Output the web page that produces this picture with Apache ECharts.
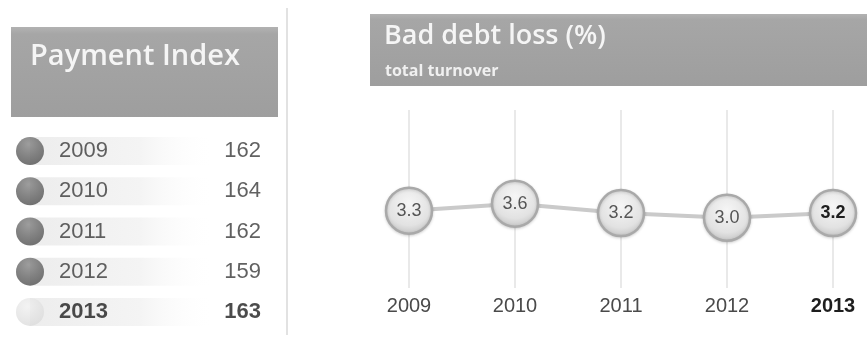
<!DOCTYPE html>
<html>
<head>
<meta charset="utf-8">
<script src="https://cdn.jsdelivr.net/npm/echarts@6/dist/echarts.min.js"></script>
<style>
  html, body { margin: 0; padding: 0; background: #fff; }
  #chart { width: 867px; height: 338px; }
</style>
</head>
<body>
<div id="chart"></div>
<script>
const years = ['2009', '2010', '2011', '2012', '2013'];
const paymentIndex = [162, 164, 162, 159, 163];
const badDebtLoss = [3.3, 3.6, 3.2, 3.0, 3.2];
const latestYear = '2013';

const chart = echarts.init(document.getElementById('chart'), null, { renderer: 'canvas' });

const headerFill = new echarts.graphic.LinearGradient(0, 0, 0, 1, [
    { offset: 0, color: '#b2b2b2' },
    { offset: 0.08, color: '#a6a6a6' },
    { offset: 1, color: '#9e9e9e' }
]);

// balls in the table: dark for past years, pale for latest
const ballColor = (year) => year === latestYear
    ? new echarts.graphic.RadialGradient(0.4, 0.3, 0.7, [
        { offset: 0, color: '#f0f0f0' },
        { offset: 1, color: '#dcdcdc' }
    ])
    : new echarts.graphic.RadialGradient(0.45, 0.25, 0.75, [
        { offset: 0, color: '#858585' },
        { offset: 0.6, color: '#646464' },
        { offset: 1, color: '#505050' }
    ]);

const bubbleFill = new echarts.graphic.RadialGradient(0.5, 0.35, 0.65, [
    { offset: 0, color: '#f6f6f6' },
    { offset: 0.7, color: '#e2e2e2' },
    { offset: 1, color: '#c4c4c4' }
]);

const option = {
    animation: false,
    backgroundColor: '#fff',
    graphic: [
        { type: 'rect', shape: { x: 11, y: 27, width: 267, height: 90 }, style: { fill: headerFill } },
        { type: 'rect', shape: { x: 370, y: 14, width: 497, height: 72 }, style: { fill: headerFill } },
        { type: 'line', shape: { x1: 287, y1: 8, x2: 287, y2: 335 }, style: { stroke: '#d8d8d8', lineWidth: 1.5 } },
        {
            type: 'text', x: 30, y: 57,
            style: { text: 'Payment Index', font: '600 29px "Open Sans"', fill: '#f5f5f5', verticalAlign: 'middle' }
        },
        {
            type: 'text', x: 384, y: 36,
            style: { text: 'Bad debt loss (%)', font: '600 27px "Open Sans"', fill: '#f5f5f5', verticalAlign: 'middle' }
        },
        {
            type: 'text', x: 385, y: 71,
            style: { text: 'total turnover', font: 'bold 16px "Open Sans"', fill: '#f0f0f0', verticalAlign: 'middle' }
        }
    ],
    grid: [
        { left: 30, width: 231, top: 131, height: 201 },
        { left: 409, right: 34, top: 110, bottom: 50 }
    ],
    xAxis: [
        { gridIndex: 0, type: 'value', min: 0, max: 1, show: false },
        {
            gridIndex: 1,
            type: 'category',
            data: years,
            boundaryGap: false,
            axisLine: { show: false },
            axisTick: { show: false },
            splitLine: { show: true, lineStyle: { color: '#e2e2e2', width: 1.5 } },
            axisLabel: {
                margin: 8,
                fontFamily: 'Liberation Sans',
                fontSize: 20,
                color: '#4a4a4a',
                formatter: (v) => v === latestYear ? '{b|' + v + '}' : v,
                rich: { b: { fontFamily: 'Liberation Sans', fontSize: 20, fontWeight: 'bold', color: '#1e1e1e' } }
            }
        }
    ],
    yAxis: [
        { gridIndex: 0, type: 'category', data: years, inverse: true, show: false },
        { gridIndex: 1, type: 'value', min: 0, max: 7.6, show: false }
    ],
    series: [
        {
            // faint row band behind each year
            type: 'bar',
            xAxisIndex: 0, yAxisIndex: 0,
            data: years.map(() => 0.8),
            barWidth: 28,
            silent: true,
            itemStyle: {
                color: new echarts.graphic.LinearGradient(0, 0, 1, 0, [
                    { offset: 0, color: '#ededed' },
                    { offset: 0.6, color: '#f4f4f4' },
                    { offset: 1, color: 'rgba(255,255,255,0)' }
                ])
            }
        },
        {
            type: 'scatter',
            xAxisIndex: 0, yAxisIndex: 0,
            symbolSize: 28,
            data: years.map((y) => ({
                value: [0, y],
                itemStyle: { color: ballColor(y) },
                label: y === latestYear ? { fontWeight: 'bold', color: '#1e1e1e' } : {}
            })),
            label: {
                show: true,
                position: 'right',
                distance: 15,
                formatter: (p) => p.value[1],
                fontFamily: 'Liberation Sans',
                fontSize: 22,
                color: '#3a3a3a'
            }
        },
        {
            type: 'scatter',
            xAxisIndex: 0, yAxisIndex: 0,
            symbolSize: 0,
            data: paymentIndex.map((v, i) => ({
                value: [1, years[i], v],
                label: years[i] === latestYear ? { fontWeight: 'bold', color: '#1e1e1e' } : {}
            })),
            label: {
                show: true,
                position: 'left',
                distance: 0,
                formatter: (p) => p.value[2],
                fontFamily: 'Liberation Sans',
                fontSize: 22,
                color: '#3a3a3a'
            }
        },
        {
            type: 'line',
            xAxisIndex: 1, yAxisIndex: 1,
            data: badDebtLoss.map((v, i) => ({
                value: v,
                label: years[i] === latestYear ? { fontWeight: 'bold', color: '#1e1e1e' } : {}
            })),
            symbol: 'circle',
            symbolSize: 46,
            lineStyle: { color: '#cacaca', width: 4 },
            itemStyle: {
                color: bubbleFill,
                borderColor: '#a9a9a9',
                borderWidth: 2.5,
                shadowColor: 'rgba(0,0,0,0.15)',
                shadowBlur: 3,
                shadowOffsetY: 1
            },
            label: {
                show: true,
                position: 'inside',
                formatter: (p) => p.value.toFixed(1),
                fontFamily: 'Liberation Sans',
                fontSize: 18,
                color: '#555'
            }
        }
    ]
};

chart.setOption(option);
window.addEventListener('resize', () => chart.resize());
</script>
</body>
</html>
